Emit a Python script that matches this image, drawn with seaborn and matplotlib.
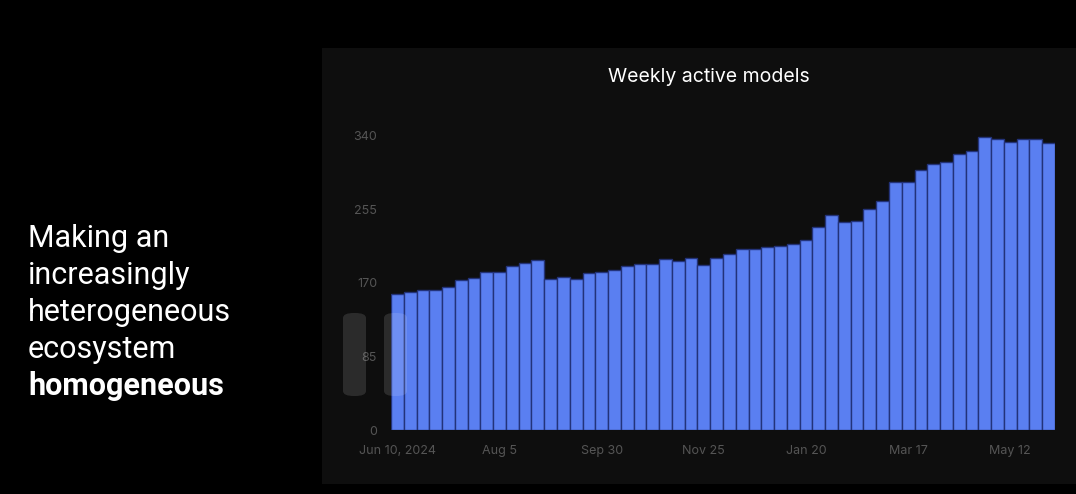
import matplotlib
matplotlib.use("Agg")
from matplotlib import pyplot as plt
from matplotlib.patches import FancyBboxPatch, Rectangle
import pandas as pd
import seaborn as sns

# weekly active models, Jun 10 2024 -> Jun 2 2025
values = [
    157, 159, 162, 162, 165, 173, 176, 182, 183, 190, 193, 196,
    174, 177, 174, 181, 182, 185, 190, 192, 192, 197, 195, 199,
    191, 199, 203, 209, 209, 211, 213, 215, 220, 234, 248, 240,
    241, 255, 264, 286, 287, 300, 307, 310, 319, 322, 339, 336,
    333, 336, 336, 332,
]
weeks = pd.date_range("2024-06-10", periods=len(values), freq="7D")
tick_labels = ["Jun 10, 2024", "Aug 5", "Sep 30", "Nov 25", "Jan 20", "Mar 17", "May 12"]
y_ticks = [0, 85, 170, 255, 340]
title = "Weekly active models"
side_lines = ["Making an", "increasingly", "heterogeneous", "ecosystem"]
side_bold = "homogeneous"

W, H = 1076, 494
sns.set_theme(style="dark")
plt.rcParams["font.family"] = ["Roboto", "DejaVu Sans"]

fig = plt.figure(figsize=(W / 100, H / 100), dpi=100, facecolor="black")

# dark card behind the chart
card = Rectangle((322 / W, 1 - 484 / H), (W - 322) / W, (484 - 48) / H,
                 transform=fig.transFigure, facecolor="#0e0e0e",
                 edgecolor="none", zorder=-1)
fig.add_artist(card)

ax = fig.add_axes([391 / W, 1 - 430 / H, (1055 - 391) / W, (430 - 135.7) / H])
ax.set_facecolor("none")
ax.set_zorder(1)

df = pd.DataFrame({"week": weeks.strftime("%Y-%m-%d"), "models": values})
sns.barplot(data=df, x="week", y="models", color="#5a7ff1", saturation=1,
            width=1.0, edgecolor="#23337a", linewidth=1.0, ax=ax)

ax.set_xlim(-0.5, len(values) - 0.5)
ax.set_ylim(0, 340)
ax.set_yticks(y_ticks)
ax.set_yticklabels([str(v) for v in y_ticks])
ax.set_xticks(range(0, len(values), 8))
ax.set_xticklabels(tick_labels)
ax.tick_params(axis="both", length=0, colors="#555555", labelsize=9, pad=10)
ax.tick_params(axis="x", pad=11)
for lab in ax.get_xticklabels() + ax.get_yticklabels():
    lab.set_family(["Inter", "DejaVu Sans"])
ax.set_xlabel("")
ax.set_ylabel("")
ax.grid(False)
for s in ax.spines.values():
    s.set_visible(False)

fig.text(709 / W, 1 - 77 / H, title, color="white", fontsize=14,
         family=["Inter", "DejaVu Sans"], ha="center", va="center", zorder=3)

# text on the left
y0 = 247
for i, line in enumerate(side_lines):
    fig.text(28 / W, 1 - (y0 + i * 37) / H, line, color="white",
             fontsize=22, ha="left", va="baseline")
fig.text(28 / W, 1 - (y0 + 4 * 37) / H, side_bold, color="white",
         fontsize=22, fontweight="bold", ha="left", va="baseline")

# faint player overlay pills
for x in (343, 384):
    pill = FancyBboxPatch((x / W, 1 - 396 / H), 23 / W, 83 / H,
                          boxstyle="round,pad=0,rounding_size=0.01",
                          transform=fig.transFigure, facecolor="white",
                          alpha=0.12, edgecolor="none", zorder=5)
    fig.add_artist(pill)

fig.savefig("out.png", dpi=100, facecolor="black")
